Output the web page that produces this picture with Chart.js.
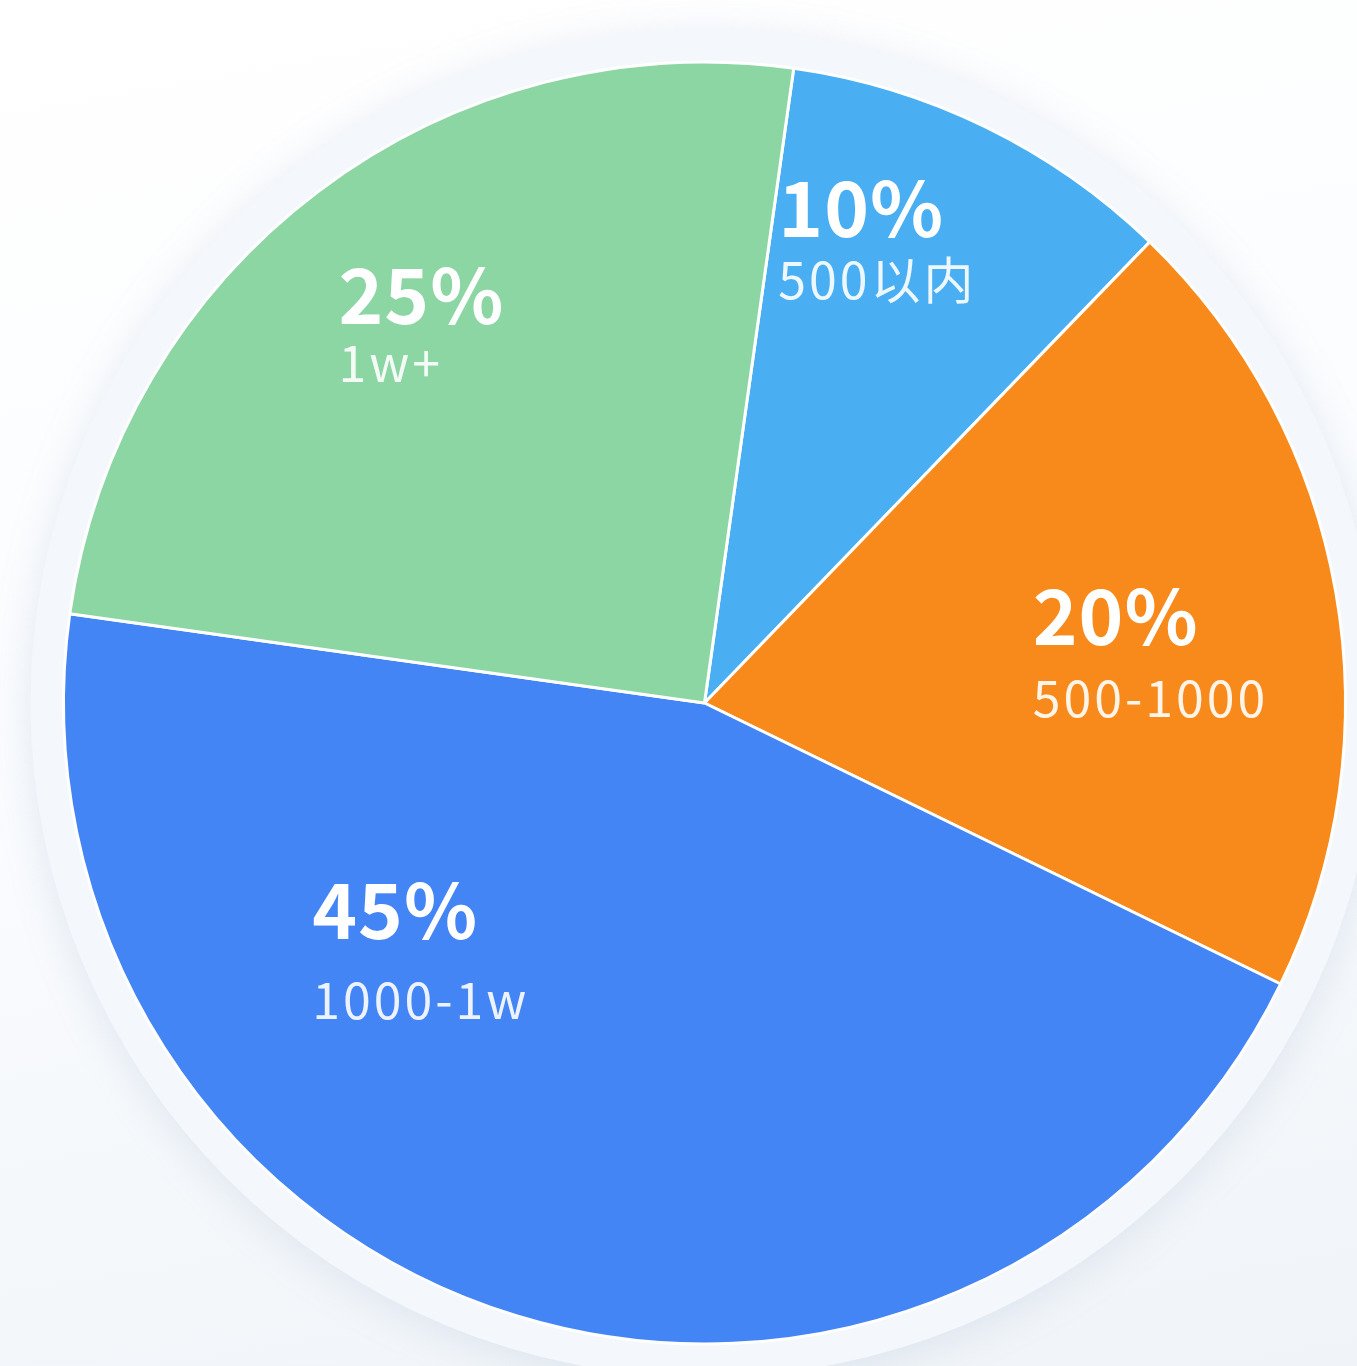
<!DOCTYPE html>
<html>
<head>
<meta charset="utf-8">
<script src="https://cdn.jsdelivr.net/npm/chart.js"></script>
<style>
    html, body {
        margin: 0;
        padding: 0;
        width: 1357px;
        height: 1366px;
        overflow: hidden;
        background: linear-gradient(170deg, #ffffff 0%, #fafcfe 50%, #f0f4f8 100%);
    }
    #wrap {
        position: relative;
        width: 1357px;
        height: 1366px;
    }
</style>
</head>
<body>
<div id="wrap">
    <canvas id="pieChart" width="1357" height="1366"></canvas>
</div>
<script>
    // slice data, clockwise from the top
    const categories = ['500以内', '500-1000', '1000-1w', '1w+'];
    const shares = [10, 20, 45, 25];
    const sliceColors = ['#4aaff2', '#f78a1b', '#4485f6', '#8cd6a4'];

    // where each label sits: angle offset (deg) from the slice middle, and radius fraction
    const labelSpots = [
        { turn: -17, r: 0.736, gap: 62 },
        { turn: 0, r: 0.52, gap: 72 },
        { turn: 42, r: 0.714, gap: 80 },
        { turn: -7, r: 0.822, gap: 58 }
    ];

    // pale ring behind the pie
    const ringPlugin = {
        id: 'ring',
        beforeDatasetsDraw(chart) {
            const arc = chart.getDatasetMeta(0).data[0];
            if (!arc) return;
            const ctx = chart.ctx;
            ctx.save();
            ctx.beginPath();
            ctx.arc(arc.x, arc.y, arc.outerRadius + 33, 0, Math.PI * 2);
            ctx.fillStyle = '#f4f7fb';
            ctx.shadowColor = 'rgba(140, 165, 200, 0.22)';
            ctx.shadowBlur = 40;
            ctx.shadowOffsetY = 6;
            ctx.fill();
            ctx.restore();
        }
    };

    // percentage + category text inside the slices
    const labelPlugin = {
        id: 'sliceLabels',
        afterDatasetsDraw(chart) {
            const ctx = chart.ctx;
            const meta = chart.getDatasetMeta(0);
            ctx.save();
            ctx.textAlign = 'left';
            ctx.textBaseline = 'alphabetic';
            meta.data.forEach((arc, i) => {
                const spot = labelSpots[i];
                const mid = (arc.startAngle + arc.endAngle) / 2 + spot.turn * Math.PI / 180;
                const x = arc.x + Math.cos(mid) * arc.outerRadius * spot.r;
                const y = arc.y + Math.sin(mid) * arc.outerRadius * spot.r;

                ctx.fillStyle = '#ffffff';
                ctx.letterSpacing = '1px';
                ctx.font = 'bold 76px "Noto Sans CJK SC", "Noto Sans", sans-serif';
                ctx.fillText(shares[i] + '%', x, y);

                ctx.fillStyle = 'rgba(255, 255, 255, 0.9)';
                ctx.letterSpacing = '3px';
                ctx.font = '50px "Noto Sans CJK SC", "Noto Sans", sans-serif';
                ctx.fillText(categories[i], x, y + spot.gap);
            });
            ctx.restore();
        }
    };

    const ctx = document.getElementById('pieChart').getContext('2d');
    new Chart(ctx, {
        type: 'pie',
        data: {
            labels: categories,
            datasets: [{
                data: shares,
                backgroundColor: sliceColors,
                borderColor: '#ffffff',
                borderWidth: 3,
                hoverOffset: 0
            }]
        },
        options: {
            responsive: false,
            animation: false,
            rotation: 8,
            layout: {
                padding: { left: 62, right: 10, top: 53, bottom: 13 }
            },
            plugins: {
                legend: { display: false },
                tooltip: { enabled: false }
            }
        },
        plugins: [ringPlugin, labelPlugin]
    });
</script>
</body>
</html>
